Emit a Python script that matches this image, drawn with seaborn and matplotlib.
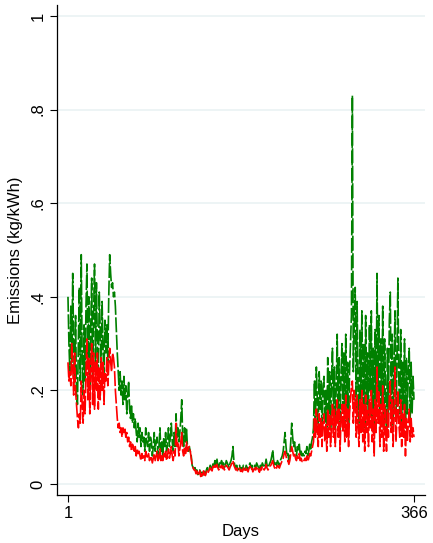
import numpy as np
import pandas as pd
import matplotlib
matplotlib.use("Agg")
import matplotlib.pyplot as plt
import seaborn as sns

# ---- data (estimated daily values, kg/kWh) ----
green_vals = [
    0.40, 0.30, 0.24, 0.38, 0.26, 0.45, 0.29, 0.22, 0.36, 0.19,
    0.17, 0.31, 0.42, 0.22, 0.49, 0.26, 0.19, 0.34, 0.22, 0.38,
    0.47, 0.25, 0.40, 0.20, 0.33, 0.44, 0.23, 0.36, 0.47, 0.26,
    0.43, 0.30, 0.22, 0.41, 0.33, 0.25, 0.39, 0.29, 0.23, 0.35,
    0.28, 0.34, 0.26, 0.40, 0.49, 0.45, 0.42, 0.43, 0.40, 0.41,
    0.38, 0.33, 0.28, 0.24, 0.20, 0.24, 0.19, 0.22, 0.17, 0.23,
    0.18, 0.21, 0.15, 0.19, 0.22, 0.16, 0.14, 0.17, 0.13, 0.15,
    0.12, 0.14, 0.11, 0.09, 0.13, 0.10, 0.12, 0.08, 0.11, 0.09,
    0.10, 0.07, 0.12, 0.09, 0.08, 0.11, 0.07, 0.10, 0.09, 0.06,
    0.08, 0.11, 0.07, 0.09, 0.10, 0.06, 0.08, 0.12, 0.07, 0.09,
    0.06, 0.10, 0.08, 0.11, 0.07, 0.09, 0.12, 0.08, 0.10, 0.13,
    0.09, 0.07, 0.11, 0.08, 0.15, 0.10, 0.12, 0.09, 0.11, 0.14,
    0.18, 0.10, 0.08, 0.12, 0.09, 0.12, 0.08, 0.07, 0.08, 0.07,
    0.06, 0.04, 0.035, 0.03, 0.035, 0.025, 0.03, 0.02, 0.025, 0.03,
    0.02, 0.025, 0.018, 0.03, 0.025, 0.02, 0.03, 0.035, 0.028, 0.032,
    0.04, 0.035, 0.03, 0.045, 0.038, 0.05, 0.042, 0.055, 0.04, 0.035,
    0.045, 0.04, 0.05, 0.038, 0.045, 0.035, 0.04, 0.05, 0.045, 0.04,
    0.035, 0.045, 0.05, 0.06, 0.08, 0.05, 0.04, 0.035, 0.04, 0.03,
    0.035, 0.04, 0.03, 0.035, 0.03, 0.04, 0.035, 0.03, 0.04, 0.035,
    0.03, 0.04, 0.045, 0.035, 0.04, 0.03, 0.035, 0.04, 0.035, 0.045,
    0.04, 0.035, 0.03, 0.04, 0.035, 0.045, 0.04, 0.035, 0.04, 0.053,
    0.04, 0.035, 0.04, 0.045, 0.05, 0.06, 0.073, 0.05, 0.04, 0.045,
    0.04, 0.05, 0.045, 0.04, 0.05, 0.055, 0.06, 0.07, 0.09, 0.11,
    0.08, 0.06, 0.065, 0.05, 0.06, 0.09, 0.13, 0.10, 0.08, 0.09,
    0.07, 0.06, 0.08, 0.07, 0.085, 0.06, 0.07, 0.06, 0.065, 0.06,
    0.07, 0.065, 0.08, 0.06, 0.07, 0.085, 0.075, 0.09, 0.10, 0.12,
    0.22, 0.13, 0.25, 0.18, 0.12, 0.24, 0.16, 0.22, 0.11, 0.21,
    0.23, 0.13, 0.20, 0.11, 0.27, 0.15, 0.24, 0.12, 0.22, 0.29,
    0.14, 0.25, 0.12, 0.21, 0.32, 0.15, 0.27, 0.11, 0.23, 0.30,
    0.16, 0.28, 0.13, 0.32, 0.15, 0.26, 0.12, 0.24, 0.30, 0.36,
    0.83, 0.24, 0.35, 0.42, 0.16, 0.39, 0.20, 0.13, 0.33, 0.18,
    0.37, 0.15, 0.30, 0.12, 0.36, 0.17, 0.28, 0.13, 0.34, 0.20,
    0.37, 0.14, 0.29, 0.11, 0.33, 0.16, 0.45, 0.20, 0.36, 0.13,
    0.31, 0.16, 0.38, 0.12, 0.31, 0.18, 0.11, 0.29, 0.15, 0.35,
    0.41, 0.17, 0.32, 0.12, 0.27, 0.37, 0.14, 0.25, 0.44, 0.22,
    0.15, 0.33, 0.13, 0.26, 0.16, 0.31, 0.12, 0.27, 0.15, 0.24,
    0.29, 0.14, 0.26, 0.15, 0.23, 0.18,
]

red_vals = [
    0.26, 0.22, 0.24, 0.21, 0.30, 0.25, 0.19, 0.28, 0.20, 0.17,
    0.14, 0.12, 0.15, 0.13, 0.22, 0.17, 0.13, 0.20, 0.15, 0.24,
    0.31, 0.18, 0.27, 0.15, 0.25, 0.30, 0.17, 0.28, 0.16, 0.26,
    0.20, 0.28, 0.16, 0.25, 0.18, 0.27, 0.20, 0.26, 0.17, 0.24,
    0.22, 0.27, 0.21, 0.25, 0.29, 0.26, 0.24, 0.28, 0.27, 0.25,
    0.20, 0.17, 0.14, 0.12, 0.13, 0.11, 0.12, 0.10, 0.12, 0.11,
    0.12, 0.10, 0.11, 0.09, 0.10, 0.08, 0.09, 0.07, 0.085, 0.08,
    0.07, 0.08, 0.06, 0.075, 0.065, 0.07, 0.06, 0.05, 0.065, 0.055,
    0.06, 0.05, 0.07, 0.055, 0.06, 0.065, 0.05, 0.06, 0.055, 0.045,
    0.055, 0.065, 0.05, 0.06, 0.07, 0.05, 0.055, 0.075, 0.05, 0.06,
    0.05, 0.065, 0.055, 0.07, 0.05, 0.06, 0.075, 0.055, 0.065, 0.08,
    0.06, 0.05, 0.07, 0.06, 0.13, 0.08, 0.09, 0.06, 0.075, 0.09,
    0.11, 0.07, 0.06, 0.08, 0.065, 0.09, 0.07, 0.075, 0.08, 0.07,
    0.055, 0.04, 0.035, 0.03, 0.03, 0.022, 0.028, 0.018, 0.022, 0.028,
    0.016, 0.022, 0.015, 0.028, 0.02, 0.018, 0.026, 0.03, 0.025, 0.03,
    0.035, 0.03, 0.028, 0.038, 0.033, 0.04, 0.036, 0.042, 0.035, 0.03,
    0.038, 0.035, 0.04, 0.033, 0.038, 0.03, 0.035, 0.04, 0.037, 0.034,
    0.03, 0.036, 0.04, 0.045, 0.05, 0.04, 0.035, 0.03, 0.034, 0.027,
    0.03, 0.034, 0.027, 0.03, 0.026, 0.034, 0.03, 0.026, 0.034, 0.03,
    0.026, 0.034, 0.038, 0.03, 0.034, 0.026, 0.03, 0.034, 0.03, 0.038,
    0.034, 0.03, 0.025, 0.034, 0.03, 0.038, 0.034, 0.03, 0.034, 0.042,
    0.034, 0.03, 0.034, 0.038, 0.04, 0.045, 0.05, 0.04, 0.034, 0.038,
    0.034, 0.04, 0.038, 0.034, 0.04, 0.045, 0.05, 0.055, 0.065, 0.07,
    0.06, 0.05, 0.05, 0.042, 0.05, 0.065, 0.08, 0.07, 0.06, 0.065,
    0.055, 0.05, 0.06, 0.055, 0.065, 0.05, 0.055, 0.048, 0.052, 0.05,
    0.055, 0.05, 0.06, 0.048, 0.055, 0.065, 0.06, 0.07, 0.08, 0.09,
    0.14, 0.10, 0.16, 0.11, 0.08, 0.15, 0.10, 0.14, 0.08, 0.13,
    0.15, 0.09, 0.13, 0.07, 0.16, 0.10, 0.15, 0.08, 0.13, 0.17,
    0.10, 0.16, 0.08, 0.14, 0.18, 0.10, 0.16, 0.07, 0.14, 0.17,
    0.11, 0.17, 0.09, 0.19, 0.10, 0.16, 0.08, 0.15, 0.18, 0.21,
    0.22, 0.13, 0.20, 0.17, 0.10, 0.19, 0.12, 0.08, 0.18, 0.11,
    0.20, 0.09, 0.17, 0.07, 0.19, 0.11, 0.16, 0.08, 0.18, 0.12,
    0.20, 0.09, 0.16, 0.06, 0.18, 0.11, 0.25, 0.13, 0.20, 0.08,
    0.17, 0.10, 0.21, 0.07, 0.17, 0.12, 0.07, 0.16, 0.10, 0.19,
    0.22, 0.11, 0.18, 0.08, 0.15, 0.25, 0.09, 0.14, 0.20, 0.13,
    0.10, 0.18, 0.08, 0.15, 0.10, 0.17, 0.06, 0.14, 0.09, 0.13,
    0.16, 0.09, 0.14, 0.10, 0.12, 0.10,
]

days = list(range(1, 367))
y_ticks = [0, 0.2, 0.4, 0.6, 0.8, 1.0]
y_tick_labels = ["0", ".2", ".4", ".6", ".8", "1"]
x_ticks = [1, 366]
x_tick_labels = ["1", "366"]

n = min(len(days), len(green_vals), len(red_vals))
df = pd.DataFrame({
    "day": days[:n] + days[:n],
    "value": green_vals[:n] + red_vals[:n],
    "series": ["green"] * n + ["red"] * n,
})

sns.set_style("white")
plt.rcParams["font.family"] = ["Liberation Sans", "DejaVu Sans"]
plt.rcParams["text.color"] = "black"
plt.rcParams["axes.labelcolor"] = "black"
plt.rcParams["xtick.color"] = "black"
plt.rcParams["ytick.color"] = "black"

fig = plt.figure(figsize=(4.33, 5.43), dpi=100)
ax = fig.add_axes([0.1316, 0.0884, 0.8499, 0.9024])

for ycoord in y_ticks:
    ax.axhline(ycoord, color="#EAF2F3", lw=1.2, zorder=0)

palette = {"green": "#008000", "red": "#FF0000"}
for s in ["green", "red"]:
    sub = df[df["series"] == s]
    sns.lineplot(data=sub, x="day", y="value", ax=ax, color=palette[s],
                 lw=1.2, estimator=None, legend=False, zorder=3)
    ax.lines[-1].set_dashes((9, 1.5))

ax.set_xlim(-10.6, 377.6)
ax.set_ylim(-0.0235, 1.0235)
ax.set_yticks(y_ticks)
ax.set_yticklabels(y_tick_labels, rotation=90, va="center")
ax.set_xticks(x_ticks)
ax.set_xticklabels(x_tick_labels)
ax.tick_params(axis="both", direction="out", length=5, width=0.8,
               color="black", labelcolor="black", labelsize=12, pad=3,
               left=True, bottom=True)
ax.set_xlabel("Days", fontsize=12, labelpad=2, color="black")
ax.set_ylabel("Emissions (kg/kWh)", fontsize=12, labelpad=6, color="black")

for side in ["top", "right"]:
    ax.spines[side].set_visible(False)
for side in ["left", "bottom"]:
    ax.spines[side].set_color("black")
    ax.spines[side].set_linewidth(0.9)

fig.savefig("out.png", dpi=100, facecolor="white")
